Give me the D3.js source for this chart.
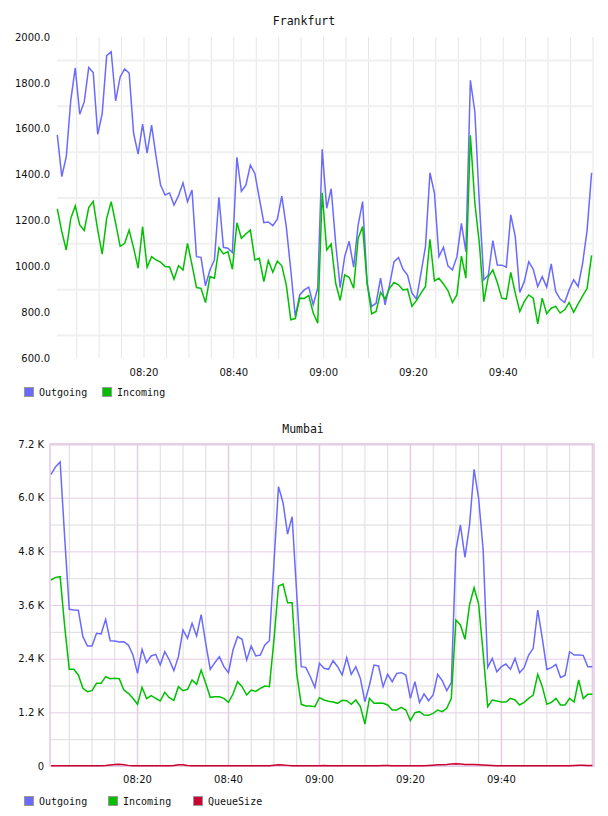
<!DOCTYPE html>
<html>
<head>
<meta charset="utf-8">
<script src="https://cdn.jsdelivr.net/npm/d3@7"></script>
<style>
  body { margin: 0; background: #fff; }
  svg text { fill: #111; }
</style>
</head>
<body>
<svg id="chart" width="608" height="816"></svg>
<script>
// one sample per minute
const frankfurtStart = "08:00:48";
const mumbaiStart = "08:01:06";

const frankfurtOutgoing = [1573, 1391, 1478, 1724, 1865, 1663, 1717, 1867, 1845, 1576,
  1666, 1919, 1936, 1721, 1826, 1861, 1843, 1579, 1489, 1620,
  1494, 1616, 1478, 1354, 1311, 1320, 1267, 1308, 1364, 1282,
  1333, 1042, 1039, 915, 984, 1028, 1301, 1083, 1079, 1060,
  1475, 1327, 1354, 1441, 1405, 1296, 1190, 1193, 1177, 1205,
  1306, 1173, 984, 781, 875, 897, 909, 832, 904, 1510,
  1253, 1338, 1100, 907, 1042, 1109, 996, 1180, 1282, 926,
  825, 839, 948, 832, 919, 1020, 1038, 987, 962, 883,
  857, 970, 1086, 1408, 1318, 1042, 1083, 1002, 984, 1042,
  1187, 1064, 1811, 1674, 1275, 941, 962, 1112, 1006, 1005,
  996, 1224, 1129, 886, 933, 1020, 987, 912, 955, 909,
  1010, 890, 857, 842, 897, 941, 912, 1013, 1158, 1408];

const frankfurtIncoming = [1250, 1151, 1071, 1209, 1263, 1180, 1156, 1256, 1283, 1158,
  1053, 1209, 1282, 1187, 1087, 1100, 1158, 1079, 992, 1173,
  996, 1042, 1028, 1018, 999, 997, 944, 1003, 984, 1100,
  1006, 907, 904, 842, 955, 948, 1081, 1054, 1064, 987,
  1190, 1122, 1141, 1158, 1028, 1035, 933, 1025, 974, 1023,
  1002, 919, 767, 772, 861, 860, 873, 796, 752, 1321,
  1071, 1097, 926, 851, 962, 952, 904, 1122, 1173, 926,
  793, 803, 886, 857, 904, 929, 919, 897, 900, 825,
  851, 883, 912, 1118, 936, 948, 923, 894, 842, 875,
  1045, 948, 1571, 1275, 1100, 846, 955, 984, 929, 861,
  857, 973, 883, 803, 846, 875, 861, 749, 861, 793,
  817, 825, 796, 810, 842, 799, 836, 871, 904, 1048];

const mumbaiOutgoing = [6521, 6693, 6797, 5100, 3503, 3488, 3481, 2892, 2683, 2683,
  2966, 2951, 3279, 2802, 2795, 2773, 2780, 2705, 2482, 2072,
  2609, 2310, 2460, 2497, 2258, 2556, 2370, 2132, 2445, 3041,
  2855, 3190, 2907, 3384, 2743, 2161, 2310, 2445, 2221, 2087,
  2594, 2892, 2832, 2370, 2683, 2460, 2482, 2705, 2802, 4530,
  6246, 5888, 5187, 5575, 3861, 2221, 2206, 1997, 1759, 2296,
  2184, 2161, 2355, 2221, 2035, 2422, 2050, 2221, 1960, 1438,
  1811, 2258, 2236, 1774, 2050, 1886, 2072, 2087, 2035, 1513,
  1886, 1416, 1610, 1461, 1587, 2050, 1908, 1684, 1863, 4830,
  5389, 4666, 5389, 6633, 5985, 4830, 2206, 2407, 2109, 2221,
  2281, 2161, 2407, 2087, 2199, 2482, 2631, 3488, 2855, 2161,
  2199, 2273, 1982, 2027, 2556, 2482, 2482, 2474, 2221, 2221];

const mumbaiIncoming = [4159, 4218, 4233, 3115, 2161, 2161, 2035, 1737, 1662, 1684,
  1848, 1848, 1997, 1953, 1960, 1953, 1699, 1625, 1513, 1379,
  1759, 1506, 1573, 1513, 1453, 1647, 1528, 1468, 1774, 1684,
  1714, 1923, 1826, 2146, 1848, 1535, 1550, 1550, 1513, 1424,
  1610, 1886, 1774, 1587, 1699, 1669, 1737, 1789, 1774, 2817,
  4025, 4069, 3652, 3652, 2072, 1379, 1342, 1342, 1327, 1528,
  1476, 1446, 1431, 1401, 1468, 1461, 1379, 1476, 1327, 939,
  1513, 1401, 1409, 1401, 1364, 1252, 1252, 1312, 1252, 1014,
  1193, 1215, 1140, 1133, 1178, 1252, 1215, 1289, 1513, 3264,
  3153, 2832, 3600, 3987, 3622, 2519, 1327, 1476, 1453, 1431,
  1431, 1513, 1476, 1364, 1424, 1513, 1587, 2050, 1774, 1379,
  1424, 1513, 1364, 1364, 1513, 1431, 1923, 1506, 1602, 1602];

const mumbaiQueue = [8, 8, 6, 6, 5, 4, 3, 3, 3, 4,
  5, 6, 10, 22, 35, 38, 30, 14, 8, 6,
  5, 6, 6, 8, 5, 4, 6, 10, 26, 30,
  12, 4, 3, 3, 5, 5, 6, 7, 6, 5,
  4, 5, 6, 5, 4, 3, 3, 4, 8, 18,
  26, 20, 14, 8, 6, 6, 5, 4, 3, 6,
  10, 8, 6, 5, 4, 3, 3, 4, 3, 3,
  4, 6, 8, 10, 9, 7, 6, 6, 5, 4,
  4, 6, 8, 12, 18, 26, 30, 34, 42, 52,
  44, 36, 32, 34, 30, 24, 18, 12, 8, 6,
  5, 4, 3, 3, 3, 3, 4, 4, 3, 3,
  3, 3, 3, 4, 5, 12, 16, 14, 10, 10];

const frankfurtTicks = [600, 800, 1000, 1200, 1400, 1600, 1800, 2000];
const frankfurtGrid = [700, 900, 1100, 1300, 1500, 1700, 1900];
const mumbaiTicks = [0, 1200, 2400, 3600, 4800, 6000, 7200];
const mumbaiGrid = [600, 1800, 3000, 4200, 5400, 6600];
const timeLabels = ["08:20", "08:40", "09:00", "09:20", "09:40"];

const colors = {Outgoing: "#6a6aff", Incoming: "#00c000", QueueSize: "#cc0033"};

const parse = d3.timeParse("%H:%M:%S");
const parseHM = d3.timeParse("%H:%M");

function times(start, n) {
  const t0 = parse(start);
  return d3.range(n).map(i => d3.timeMinute.offset(t0, i));
}

const svg = d3.select("#chart");

function legend(y, names, xs) {
  const g = svg.append("g");
  names.forEach((name, i) => {
    const x = xs[i];
    g.append("rect").attr("x", x + 0.5).attr("y", y + 0.5).attr("width", 9).attr("height", 9)
      .attr("fill", colors[name]).attr("stroke", "#999");
    g.append("text").attr("x", x + 15).attr("y", y + 9)
      .style("font-family", "DejaVu Sans Mono").style("font-size", "10px").text(name);
  });
}

// ---------- Frankfurt ----------
{
  const tt = times(frankfurtStart, frankfurtOutgoing.length);
  const x = d3.scaleTime().domain([parse("08:00:44"), parse("10:00:20")]).range([57, 594]);
  const y = d3.scaleLinear().domain([600, 2000]).range([358, 37]);

  svg.append("text").attr("x", 304).attr("y", 25).attr("text-anchor", "middle")
    .style("font-family", "DejaVu Sans Mono").style("font-size", "11.5px").text("Frankfurt");

  const vg = svg.append("g").attr("transform", "translate(0,358)")
    .call(d3.axisBottom(x).ticks(d3.timeMinute.every(5)).tickSize(-321).tickFormat(""));
  vg.select(".domain").remove();
  vg.selectAll("line").attr("stroke", "#e6e6e6");

  const hg = svg.append("g").attr("transform", "translate(57,0)")
    .call(d3.axisLeft(y).tickValues(frankfurtGrid).tickSize(-537).tickFormat(""));
  hg.select(".domain").remove();
  hg.selectAll("line").attr("stroke", "#f0f0f0").attr("stroke-width", 2);

  const ya = svg.append("g").attr("transform", "translate(57,0)")
    .call(d3.axisLeft(y).tickValues(frankfurtTicks).tickSize(0).tickPadding(7).tickFormat(d3.format(".1f")));
  ya.select(".domain").remove();
  ya.selectAll("text").style("font-family", "DejaVu Sans").style("font-size", "10px").attr("fill", "#111");

  const xa = svg.append("g").attr("transform", "translate(0,358)")
    .call(d3.axisBottom(x).tickValues(timeLabels.map(parseHM)).tickSize(0).tickPadding(11)
      .tickFormat(d3.timeFormat("%H:%M")));
  xa.select(".domain").remove();
  xa.selectAll("text").style("font-family", "DejaVu Sans").style("font-size", "10px").attr("fill", "#111");

  const line = d3.line().x((d, i) => x(tt[i])).y(d => y(d));
  svg.append("path").datum(frankfurtOutgoing).attr("d", line)
    .attr("fill", "none").attr("stroke", colors.Outgoing).attr("stroke-width", 1.5);
  svg.append("path").datum(frankfurtIncoming).attr("d", line)
    .attr("fill", "none").attr("stroke", colors.Incoming).attr("stroke-width", 1.5);

  legend(387, ["Outgoing", "Incoming"], [24, 102]);
}

// ---------- Mumbai ----------
{
  const tt = times(mumbaiStart, mumbaiOutgoing.length);
  const x = d3.scaleTime().domain([parse("08:00:52"), parse("10:00:28")]).range([50, 594]);
  const y = d3.scaleLinear().domain([0, 7200]).range([766, 444]);
  const major = "#e4cce4", minor = "#dcdcdc";

  svg.append("text").attr("x", 303).attr("y", 433).attr("text-anchor", "middle")
    .style("font-family", "DejaVu Sans Mono").style("font-size", "11.5px").text("Mumbai");

  const vg = svg.append("g").attr("transform", "translate(0,766)")
    .call(d3.axisBottom(x).ticks(d3.timeMinute.every(5)).tickSize(-322).tickFormat(""));
  vg.select(".domain").remove();
  vg.selectAll(".tick line")
    .attr("stroke", d => d.getMinutes() % 20 === 0 ? major : minor)
    .attr("stroke-width", d => d.getMinutes() % 20 === 0 ? 1.5 : 1);

  const hg = svg.append("g").attr("transform", "translate(50,0)")
    .call(d3.axisLeft(y).tickValues(mumbaiGrid).tickSize(-544).tickFormat(""));
  hg.select(".domain").remove();
  hg.selectAll("line").attr("stroke", minor);

  const hm = svg.append("g").attr("transform", "translate(50,0)")
    .call(d3.axisLeft(y).tickValues(mumbaiTicks).tickSize(-544).tickFormat(""));
  hm.select(".domain").remove();
  hm.selectAll("line").attr("stroke", major).attr("stroke-width", d => d === 7200 ? 2 : 1);

  svg.append("rect").attr("x", 50).attr("y", 444).attr("width", 544).attr("height", 322)
    .attr("fill", "none").attr("stroke", major).attr("stroke-width", 1.5);

  const ya = svg.append("g").attr("transform", "translate(50,0)")
    .call(d3.axisLeft(y).tickValues(mumbaiTicks).tickSize(0).tickPadding(6)
      .tickFormat(d => d === 0 ? "0" : d3.format(".1f")(d / 1000) + " K"));
  ya.select(".domain").remove();
  ya.selectAll("text").style("font-family", "DejaVu Sans").style("font-size", "10px").attr("fill", "#111");

  const xa = svg.append("g").attr("transform", "translate(0,766)")
    .call(d3.axisBottom(x).tickValues(timeLabels.map(parseHM)).tickSize(0).tickPadding(10)
      .tickFormat(d3.timeFormat("%H:%M")));
  xa.select(".domain").remove();
  xa.selectAll("text").style("font-family", "DejaVu Sans").style("font-size", "10px").attr("fill", "#111");

  const line = d3.line().x((d, i) => x(tt[i])).y(d => y(d));
  svg.append("path").datum(mumbaiOutgoing).attr("d", line)
    .attr("fill", "none").attr("stroke", colors.Outgoing).attr("stroke-width", 1.5);
  svg.append("path").datum(mumbaiIncoming).attr("d", line)
    .attr("fill", "none").attr("stroke", colors.Incoming).attr("stroke-width", 1.5);
  svg.append("path").datum(mumbaiQueue).attr("d", line)
    .attr("fill", "none").attr("stroke", colors.QueueSize).attr("stroke-width", 1.5);

  legend(796, ["Outgoing", "Incoming", "QueueSize"], [24, 108, 193]);
}
</script>
</body>
</html>
